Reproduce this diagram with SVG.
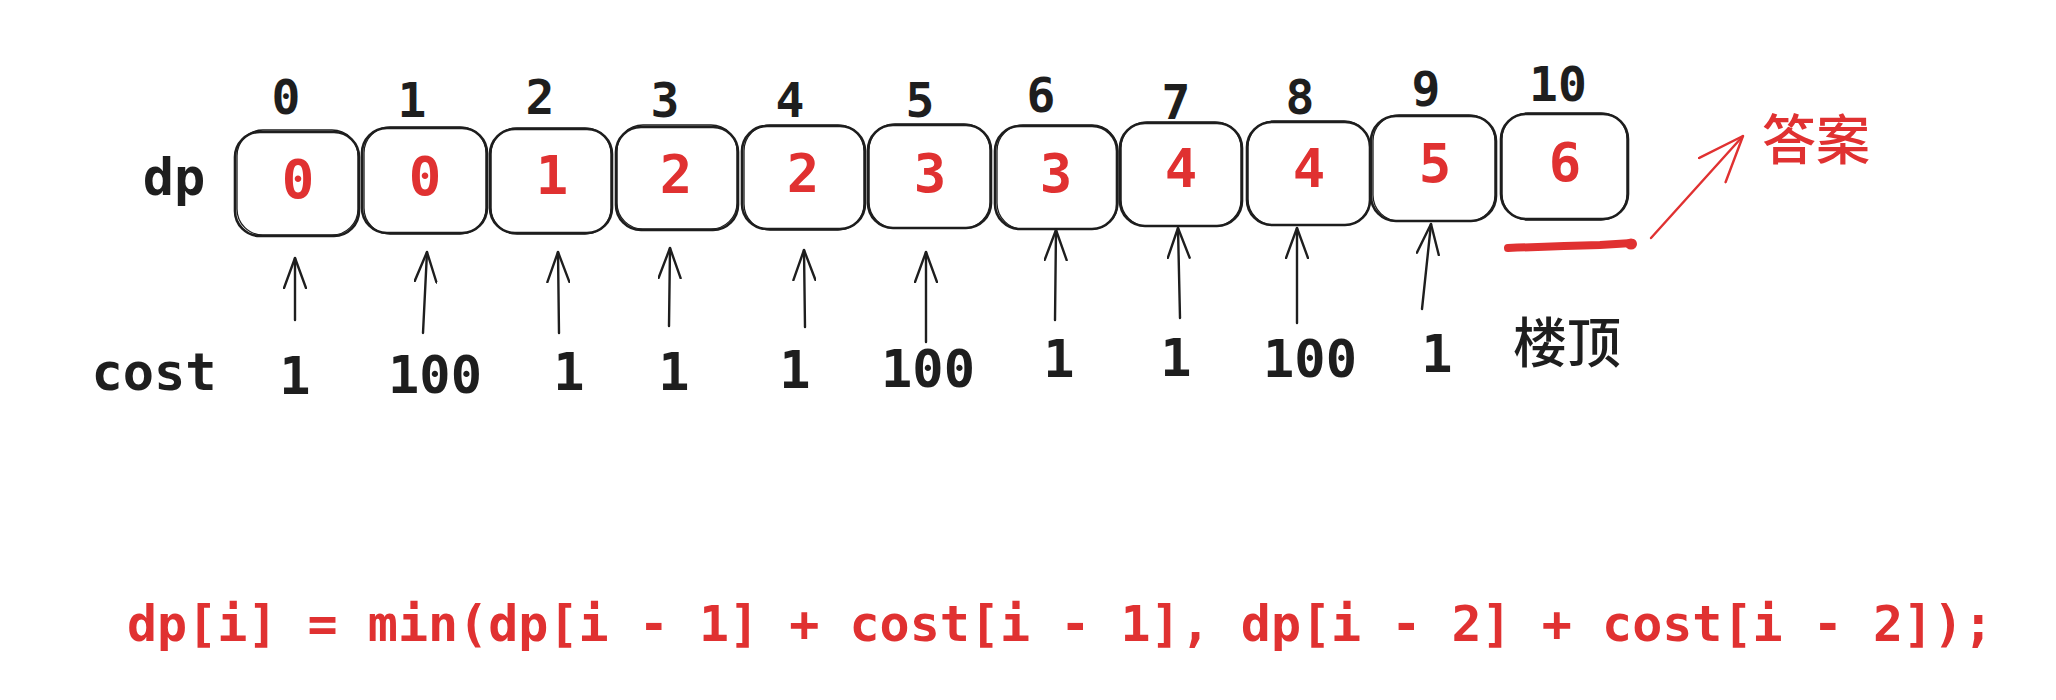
<svg xmlns="http://www.w3.org/2000/svg" width="2056" height="700" viewBox="0 0 2056 700">
  <style>
    .box { fill: none; stroke: #1e1e1e; stroke-width: 2.6; }
    .box2 { fill: none; stroke: #1e1e1e; stroke-width: 1.3; }
    .idx { font-family: "DejaVu Sans Mono", "Liberation Mono", monospace; font-size: 48px; font-weight: bold; fill: #1e1e1e; text-anchor: middle; }
    .val { font-family: "DejaVu Sans Mono", "Liberation Mono", monospace; font-size: 54px; font-weight: bold; fill: #e03131; text-anchor: middle; }
    .lbl { font-family: "DejaVu Sans Mono", "Liberation Mono", monospace; font-size: 52px; font-weight: bold; fill: #1e1e1e; text-anchor: middle; }
    .cjk { font-family: "Noto Sans CJK SC", "Noto Sans", sans-serif; font-size: 54px; font-weight: 500; text-anchor: middle; }
    .formula { font-family: "DejaVu Sans Mono", "Liberation Mono", monospace; font-size: 50px; font-weight: bold; fill: #e03131; }
    .arr { fill: none; stroke: #1e1e1e; stroke-width: 2.4; stroke-linecap: round; marker-end: url(#head); }
  </style>
  <defs>
    <marker id="head" markerUnits="userSpaceOnUse" viewBox="0 0 32 24" refX="31" refY="12" markerWidth="32" markerHeight="24" orient="auto">
      <path d="M1,1 L31,12 L1,23" fill="none" stroke="#1e1e1e" stroke-width="2.4" stroke-linecap="round" stroke-linejoin="round"/>
    </marker>
    <marker id="headRed" markerUnits="userSpaceOnUse" viewBox="0 0 48 38" refX="47" refY="19" markerWidth="48" markerHeight="38" orient="auto">
      <path d="M1,1 L47,19 L1,37" fill="none" stroke="#e03131" stroke-width="2.4" stroke-linecap="round" stroke-linejoin="round"/>
    </marker>
  </defs>
  <rect width="2056" height="700" fill="#ffffff"/>

  <g id="label-dp"><text class="lbl" x="174" y="195">dp</text></g>
  <g id="label-cost"><text class="lbl" x="154" y="390">cost</text></g>

  <g id="cell-0"><text class="idx" x="286" y="114">0</text><rect class="box" x="235" y="132" width="124" height="104" rx="25"/><rect class="box2" x="237" y="130" width="121" height="105" rx="26"/><text class="val" x="298" y="198">0</text></g>
  <g id="cell-1"><text class="idx" x="412" y="117">1</text><rect class="box" x="362" y="128" width="125" height="105" rx="25"/><rect class="box2" x="364" y="127" width="122" height="107" rx="26"/><text class="val" x="425" y="195">0</text></g>
  <g id="cell-2"><text class="idx" x="540" y="114">2</text><rect class="box" x="490" y="129" width="122" height="104" rx="25"/><rect class="box2" x="491" y="128" width="120" height="106" rx="26"/><text class="val" x="552" y="194">1</text></g>
  <g id="cell-3"><text class="idx" x="665" y="117">3</text><rect class="box" x="616" y="127" width="122" height="103" rx="25"/><rect class="box2" x="617" y="125" width="120" height="104" rx="26"/><text class="val" x="676" y="193">2</text></g>
  <g id="cell-4"><text class="idx" x="790" y="117">4</text><rect class="box" x="742" y="126" width="123" height="103" rx="25"/><rect class="box2" x="744" y="125" width="120" height="105" rx="26"/><text class="val" x="803" y="192">2</text></g>
  <g id="cell-5"><text class="idx" x="920" y="117">5</text><rect class="box" x="868" y="125" width="123" height="103" rx="25"/><rect class="box2" x="869" y="124" width="121" height="104" rx="26"/><text class="val" x="930" y="192">3</text></g>
  <g id="cell-6"><text class="idx" x="1041" y="112">6</text><rect class="box" x="995" y="126" width="122" height="103" rx="25"/><rect class="box2" x="997" y="125" width="121" height="104" rx="26"/><text class="val" x="1056" y="192">3</text></g>
  <g id="cell-7"><text class="idx" x="1176" y="119">7</text><rect class="box" x="1120" y="123" width="122" height="103" rx="25"/><rect class="box2" x="1121" y="122" width="120" height="104" rx="26"/><text class="val" x="1181" y="187">4</text></g>
  <g id="cell-8"><text class="idx" x="1300" y="114">8</text><rect class="box" x="1247" y="122" width="123" height="103" rx="25"/><rect class="box2" x="1248" y="121" width="122" height="104" rx="26"/><text class="val" x="1309" y="187">4</text></g>
  <g id="cell-9"><text class="idx" x="1426" y="106">9</text><rect class="box" x="1371" y="116" width="125" height="105" rx="25"/><rect class="box2" x="1373" y="115" width="122" height="106" rx="26"/><text class="val" x="1435" y="182">5</text></g>
  <g id="cell-10"><text class="idx" x="1558" y="101">10</text><rect class="box" x="1501" y="114" width="127" height="105" rx="25"/><rect class="box2" x="1502" y="113" width="125" height="107" rx="26"/><text class="val" x="1565" y="181">6</text></g>

  <g id="cost-values">
    <text class="lbl" x="295" y="394">1</text>
    <text class="lbl" x="435" y="393">100</text>
    <text class="lbl" x="569" y="390">1</text>
    <text class="lbl" x="674" y="390">1</text>
    <text class="lbl" x="795" y="388">1</text>
    <text class="lbl" x="928" y="387">100</text>
    <text class="lbl" x="1059" y="377">1</text>
    <text class="lbl" x="1176" y="376">1</text>
    <text class="lbl" x="1310" y="377">100</text>
    <text class="lbl" x="1437" y="372">1</text>
  </g>
  <g id="label-top"><text class="cjk" x="1567" y="363" fill="#1e1e1e">楼顶</text></g>
  <g id="label-answer"><text class="cjk" x="1816" y="160" fill="#e03131">答案</text></g>

  <g id="connectors">
    <line class="arr" x1="295" y1="320" x2="295" y2="258"/>
    <line class="arr" x1="423" y1="333" x2="427" y2="252"/>
    <line class="arr" x1="559" y1="333" x2="558" y2="252"/>
    <line class="arr" x1="669" y1="326" x2="670" y2="248"/>
    <line class="arr" x1="805" y1="327" x2="804" y2="250"/>
    <line class="arr" x1="926" y1="342" x2="926" y2="252"/>
    <line class="arr" x1="1055" y1="320" x2="1056" y2="230"/>
    <line class="arr" x1="1180" y1="318" x2="1178" y2="228"/>
    <line class="arr" x1="1297" y1="323" x2="1297" y2="228"/>
    <line class="arr" x1="1422" y1="309" x2="1431" y2="224"/>
    <line x1="1651" y1="238" x2="1743" y2="136" fill="none" stroke="#e03131" stroke-width="2.4" stroke-linecap="round" marker-end="url(#headRed)"/>
  </g>

  <g id="underline">
    <path d="M1508,248 Q1560,246 1600,245 L1632,243" fill="none" stroke="#e03131" stroke-width="8" stroke-linecap="round"/>
    <ellipse cx="1631" cy="244" rx="6" ry="5.5" fill="#e03131"/>
  </g>

  <g id="formula"><text class="formula" x="127" y="641">dp[i] = min(dp[i - 1] + cost[i - 1], dp[i - 2] + cost[i - 2]);</text></g>
</svg>
